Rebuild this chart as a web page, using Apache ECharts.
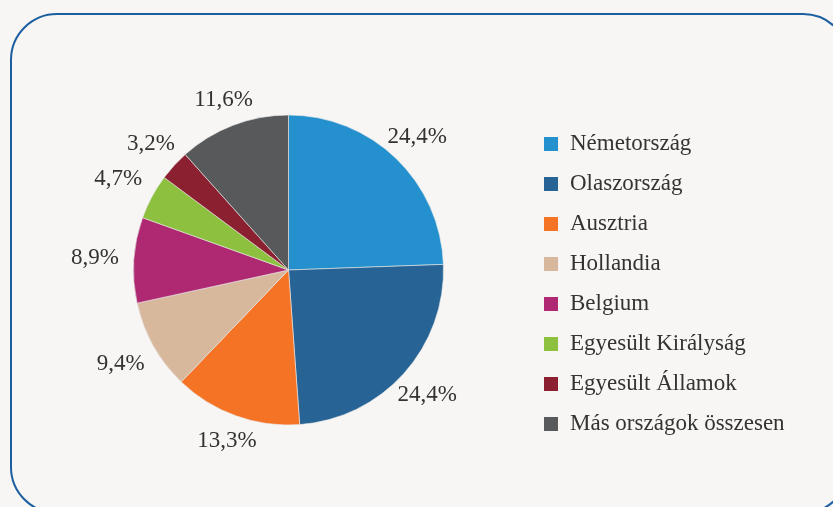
<!DOCTYPE html>
<html>
<head>
<meta charset="utf-8">
<script src="https://cdn.jsdelivr.net/npm/echarts@6/dist/echarts.min.js"></script>
<style>
  html, body { margin: 0; padding: 0; background: #f7f6f4; }
  #main { width: 833px; height: 507px; }
</style>
</head>
<body>
<div id="main"></div>
<script>
// chart data
const countries = [
  "Németország",
  "Olaszország",
  "Ausztria",
  "Hollandia",
  "Belgium",
  "Egyesült Királyság",
  "Egyesült Államok",
  "Más országok összesen"
];
const shares = [24.4, 24.4, 13.3, 9.4, 8.9, 4.7, 3.2, 11.6];
const colors = ["#2490cd", "#276495", "#f47325", "#d7b89d", "#ae2971", "#8dc03e", "#8b2130", "#58595b"];

const cx = 288.5, cy = 270, radius = 155;
const font = "'Liberation Serif', 'DejaVu Serif', serif";

const total = shares.reduce((a, b) => a + b, 0);

// mid angle of a slice (clockwise from 12 o'clock)
const midAngle = (idx) => {
  let before = 0;
  for (let i = 0; i < idx; i++) before += shares[i];
  return ((before + shares[idx] / 2) / total) * Math.PI * 2;
};

const myChart = echarts.init(document.getElementById("main"));

const option = {
  backgroundColor: "#f7f6f4",
  color: colors,
  animation: false,
  graphic: [
    {
      type: "rect",
      shape: { x: 11, y: 14, width: 838, height: 499, r: 46 },
      style: { fill: "none", stroke: "#1b5fa0", lineWidth: 2 },
      silent: true
    }
  ],
  legend: {
    orient: "vertical",
    left: 544,
    top: 132,
    padding: 0,
    itemWidth: 14,
    itemHeight: 14,
    itemGap: 16,
    icon: "rect",
    selectedMode: false,
    itemStyle: { borderWidth: 0 },
    textStyle: {
      fontFamily: font,
      fontSize: 23,
      lineHeight: 24,
      color: "#333333",
      padding: [0, 0, 0, 7]
    },
    data: countries
  },
  series: [
    {
      type: "pie",
      center: [cx, cy],
      radius: radius,
      startAngle: 90,
      clockwise: true,
      avoidLabelOverlap: false,
      itemStyle: { borderColor: "#e9e9e9", borderWidth: 0.6 },
      label: {
        show: true,
        position: "outside",
        fontFamily: font,
        fontSize: 23,
        color: "#333333",
        formatter: (p) => p.value.toFixed(1).replace(".", ",") + "%"
      },
      labelLine: { show: false, length: 0, length2: 0 },
      emphasis: { disabled: true },
      // box sits outside the slice: ray from box centre back to the pie exits the box 15px from the edge
      labelLayout: function (params) {
        const a = midAngle(params.dataIndex);
        const dx = Math.sin(a), dy = -Math.cos(a);
        const hw = params.labelRect.width / 2, hh = 11;
        const toBox = Math.min(
          Math.abs(dx) > 1e-6 ? hw / Math.abs(dx) : Infinity,
          Math.abs(dy) > 1e-6 ? hh / Math.abs(dy) : Infinity
        );
        const dist = radius + 15 + toBox;
        return {
          x: cx + dx * dist,
          y: cy + dy * dist,
          align: "center",
          verticalAlign: "middle"
        };
      },
      data: countries.map((name, i) => ({ name: name, value: shares[i] }))
    }
  ]
};

myChart.setOption(option);
</script>
</body>
</html>
